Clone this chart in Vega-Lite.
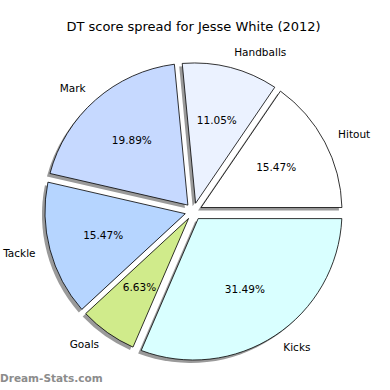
{
  "$schema": "https://vega.github.io/schema/vega-lite/v6.json",
  "width": 387,
  "height": 361,
  "autosize": {"type": "none"},
  "padding": {"top": 31, "left": 0, "right": 0, "bottom": 0},
  "background": "white",
  "config": {"view": {"stroke": null}},
  "title": {"text": "DT score spread for Jesse White (2012)", "font": "DejaVu Sans", "fontSize": 13, "fontWeight": "normal", "color": "#000000", "offset": -3, "anchor": "middle"},
  "layer": [
    {
      "data": {"values": [
        {"label": "Hitout", "pct": 15.47, "i": 1},
        {"label": "Handballs", "pct": 11.05, "i": 2},
        {"label": "Mark", "pct": 19.89, "i": 3},
        {"label": "Tackle", "pct": 15.47, "i": 4},
        {"label": "Goals", "pct": 6.63, "i": 5},
        {"label": "Kicks", "pct": 31.49, "i": 6}
      ]},
      "encoding": {
        "theta": {"field": "pct", "type": "quantitative", "stack": true, "scale": {"domain": [0, 100], "range": [1.5707963, -4.712389]}},
        "order": {"field": "i", "type": "quantitative"}
      },
      "layer": [
        {
          "mark": {"type": "arc", "innerRadius": 8.5, "outerRadius": 148.5, "padAngle": {"expr": "2*asin(8.5*sin(datum.pct*PI/100)/sqrt(8.5*8.5+148.5*148.5))"}, "fill": "#9a9a9a", "xOffset": -3, "yOffset": 3}
        },
        {
          "mark": {"type": "arc", "innerRadius": 8.5, "outerRadius": 148.5, "padAngle": {"expr": "2*asin(8.5*sin(datum.pct*PI/100)/sqrt(8.5*8.5+148.5*148.5))"}, "stroke": "#000000", "strokeWidth": 0.8},
          "encoding": {
            "color": {"field": "label", "type": "nominal", "legend": null,
              "scale": {"domain": ["Hitout", "Handballs", "Mark", "Tackle", "Goals", "Kicks"], "range": ["#ffffff", "#ebf2ff", "#c6d9ff", "#b6d5ff", "#d0eb8b", "#d9ffff"]}}
          }
        },
        {
          "mark": {"type": "text", "radius": 163.5, "font": "DejaVu Sans", "fontSize": 10.5, "color": "#000000", "baseline": "middle",
            "align": {"expr": "indexof(['Mark','Tackle','Goals'], datum.label) >= 0 ? 'right' : 'left'"}},
          "encoding": {"text": {"field": "label", "type": "nominal"}}
        },
        {
          "mark": {"type": "text", "radius": 93.5, "font": "DejaVu Sans", "fontSize": 10.5, "color": "#000000", "baseline": "middle", "align": "center",
            "text": {"expr": "format(datum.pct, '.2f') + '%'"}}
        }
      ]
    },
    {
      "data": {"values": [{"t": "Dream-Stats.com"}]},
      "mark": {"type": "text", "font": "DejaVu Sans", "fontWeight": "bold", "fontSize": 10.5, "color": "#8c8c8c", "align": "left", "baseline": "middle"},
      "encoding": {
        "text": {"field": "t", "type": "nominal"},
        "x": {"value": 0},
        "y": {"value": 348}
      }
    }
  ]
}
